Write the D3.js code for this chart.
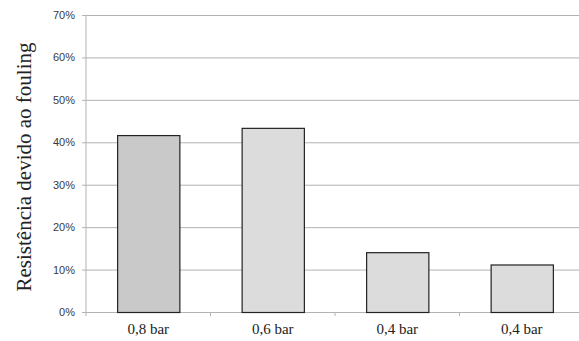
<!DOCTYPE html>
<html>
<head>
<meta charset="utf-8">
<script src="https://cdn.jsdelivr.net/npm/d3@7/dist/d3.min.js"></script>
<style>
  html, body { margin: 0; padding: 0; background: #fff; }
  svg { display: block; }
</style>
</head>
<body>
<svg id="chart" width="579" height="341"></svg>
<script>
// Fouling resistance share per pressure condition
const categories = ["0,8 bar", "0,6 bar", "0,4 bar", "0,4 bar "];
const values = [0.417, 0.434, 0.141, 0.112];
const fills = ["#c9c9c9", "#dcdcdc", "#dcdcdc", "#dcdcdc"];
const yTicks = [0, 0.1, 0.2, 0.3, 0.4, 0.5, 0.6, 0.7];
const yTitle = "Resistência devido ao fouling";

const svg = d3.select("#chart");
const margin = { left: 86, top: 15, right: -5, bottom: 29 };
const W = 579, H = 341;
const innerW = W - margin.left - margin.right;
const innerH = H - margin.top - margin.bottom;

const g = svg.append("g").attr("transform", `translate(${margin.left},${margin.top})`);

const x = d3.scaleBand().domain(categories).range([0, innerW]).paddingInner(0.5).paddingOuter(0.25);
const y = d3.scaleLinear().domain([0, 0.7]).range([innerH, 0]);

// horizontal gridlines with short ticks to the left
const yAxis = d3.axisLeft(y).tickValues(yTicks).tickFormat(d3.format(".0%"))
  .tickSize(-innerW - 4).tickPadding(7);
const ya = g.append("g").attr("transform", "translate(-4,0)").call(yAxis);
ya.select(".domain").remove();
ya.selectAll(".tick line").attr("stroke", "#b3b3b3").attr("stroke-width", 1).attr("x1", 0);
ya.selectAll(".tick text")
  .attr("font-family", "'Liberation Sans', Arial, sans-serif")
  .attr("font-size", 11).attr("fill", "#3a3a3a");

// vertical axis line
g.append("line").attr("x1", 0).attr("x2", 0).attr("y1", 0).attr("y2", innerH + 4)
  .attr("stroke", "#b3b3b3");

// category separators on the baseline
const bw = innerW / categories.length;
g.selectAll(".sep").data(d3.range(1, categories.length)).join("line")
  .attr("class", "sep")
  .attr("x1", d => d * bw).attr("x2", d => d * bw)
  .attr("y1", innerH).attr("y2", innerH + 4)
  .attr("stroke", "#b3b3b3");

// bars
g.selectAll(".bar").data(values).join("rect")
  .attr("class", "bar")
  .attr("x", (d, i) => x(categories[i]) + 0.5)
  .attr("y", d => y(d) + 0.5)
  .attr("width", x.bandwidth())
  .attr("height", d => innerH - y(d))
  .attr("fill", (d, i) => fills[i])
  .attr("stroke", "#222").attr("stroke-width", 1.2);

// category labels
g.selectAll(".cat").data(categories).join("text")
  .attr("class", "cat")
  .attr("x", d => x(d) + x.bandwidth() / 2)
  .attr("y", innerH + 22)
  .attr("text-anchor", "middle")
  .attr("font-family", "'Liberation Serif', 'Times New Roman', serif")
  .attr("font-size", 15).attr("fill", "#222")
  .text(d => d.trim());

// axis title
svg.append("text")
  .attr("transform", `translate(31,167) rotate(-90)`)
  .attr("text-anchor", "middle")
  .attr("font-family", "'Liberation Serif', 'Times New Roman', serif")
  .attr("font-size", 21).attr("fill", "#222")
  .text(yTitle);
</script>
</body>
</html>
